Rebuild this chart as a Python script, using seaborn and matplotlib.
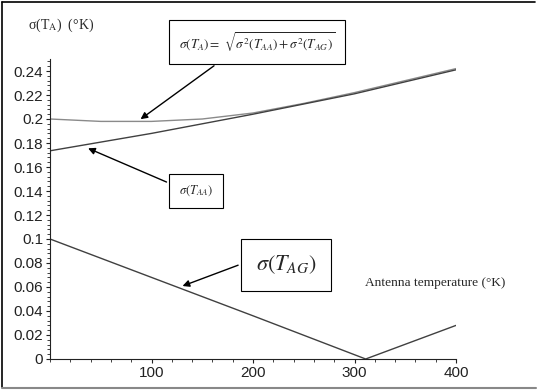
import matplotlib
matplotlib.use("Agg")
import matplotlib.pyplot as plt
import seaborn as sns
import pandas as pd
from matplotlib.lines import Line2D
from matplotlib.ticker import MultipleLocator

sns.set_style("ticks")
plt.rcParams['font.family'] = ['Liberation Sans', 'DejaVu Sans']
plt.rcParams['mathtext.fontset'] = 'stix'

# Data
x_ta = [0, 50, 100, 150, 200, 250, 300, 350, 400]
y_ta = [0.200, 0.198, 0.198, 0.200, 0.205, 0.213, 0.222, 0.232, 0.242]
x_taa = [0, 100, 200, 300, 400]
y_taa = [0.1735, 0.188, 0.204, 0.221, 0.241]
x_tag = [0, 100, 200, 311, 400]
y_tag = [0.100, 0.068, 0.036, 0.000, 0.028]

xticks = [100, 200, 300, 400]
yticks = [0, 0.02, 0.04, 0.06, 0.08, 0.1, 0.12, 0.14, 0.16, 0.18, 0.2, 0.22, 0.24]
ytick_labels = ['0', '0.02', '0.04', '0.06', '0.08', '0.1', '0.12', '0.14',
                '0.16', '0.18', '0.2', '0.22', '0.24']

df_ta = pd.DataFrame({'x': x_ta, 'y': y_ta})
df_taa = pd.DataFrame({'x': x_taa, 'y': y_taa})
df_tag = pd.DataFrame({'x': x_tag, 'y': y_tag})

fig = plt.figure(figsize=(5.37, 3.92), dpi=100)
ax = fig.add_axes([50 / 537, 33 / 392, 406 / 537, 300 / 392])

sns.lineplot(data=df_ta, x='x', y='y', ax=ax, color='#8a8a8a', lw=1.0)
sns.lineplot(data=df_taa, x='x', y='y', ax=ax, color='#404040', lw=1.0)
sns.lineplot(data=df_tag, x='x', y='y', ax=ax, color='#404040', lw=1.0)

ax.set_xlim(0, 400)
ax.set_ylim(0, 0.25)
ax.set_xticks(xticks)
ax.set_xticklabels([str(t) for t in xticks])
ax.set_yticks(yticks)
ax.set_yticklabels(ytick_labels)
ax.xaxis.set_minor_locator(MultipleLocator(20))
ax.yaxis.set_minor_locator(MultipleLocator(0.004))
ax.tick_params(axis='both', which='major', length=3, width=0.8, labelsize=11, colors='#222222', pad=2)
ax.tick_params(axis='both', which='minor', length=2, width=0.6, colors='#222222')
ax.set_xlabel('')
ax.set_ylabel('')
for s in ['top', 'right']:
    ax.spines[s].set_visible(False)
for s in ['left', 'bottom']:
    ax.spines[s].set_linewidth(0.8)
    ax.spines[s].set_color('#222222')

serif = ['Liberation Serif', 'DejaVu Serif']
fig.text(28 / 537, 1 - 25 / 392, r'σ(T$_\mathrm{A}$)  (°K)', fontsize=10, family=serif, va='center')
fig.text(365 / 537, 1 - 283 / 392, 'Antenna temperature (°K)', fontsize=9.6, family=serif, va='center')

box = dict(boxstyle='square,pad=0.6', fc='white', ec='black', lw=0.8)
arrow = dict(arrowstyle='-|>', color='black', lw=1.0, mutation_scale=10)

ax.annotate(r'$\sigma(T_A) = \ \sqrt{\sigma^2(T_{AA})+\sigma^2(T_{AG})}$',
            xy=(87, 0.1985), xycoords='data',
            xytext=(257 / 537, 1 - 42 / 392), textcoords='figure fraction',
            fontsize=9.5, ha='center', va='center', bbox=dict(box, boxstyle='square,pad=0.75'),
            arrowprops=dict(arrow, relpos=(0.33, 0.0)))
ax.annotate(r'$\sigma(T_{AA})$',
            xy=(35, 0.1765), xycoords='data',
            xytext=(196 / 537, 1 - 191 / 392), textcoords='figure fraction',
            fontsize=9, ha='center', va='center', bbox=dict(box, boxstyle='square,pad=0.75'),
            arrowprops=dict(arrow, relpos=(0.0, 0.75)))
ax.annotate(r'$\sigma(T_{AG})$',
            xy=(128, 0.060), xycoords='data',
            xytext=(286 / 537, 1 - 265 / 392), textcoords='figure fraction',
            fontsize=16, ha='center', va='center', bbox=dict(box, boxstyle='square,pad=0.65'),
            arrowprops=dict(arrow, relpos=(0.0, 0.78)))

# figure frame
fig.add_artist(Line2D([0.003, 0.003], [0.012, 0.996], transform=fig.transFigure, color='black', lw=1.2))
fig.add_artist(Line2D([0.003, 535 / 537], [0.996, 0.996], transform=fig.transFigure, color='black', lw=1.2))
fig.add_artist(Line2D([0.003, 0.998], [0.011, 0.011], transform=fig.transFigure, color='#888888', lw=1.5))

fig.savefig('out.png', dpi=100)
